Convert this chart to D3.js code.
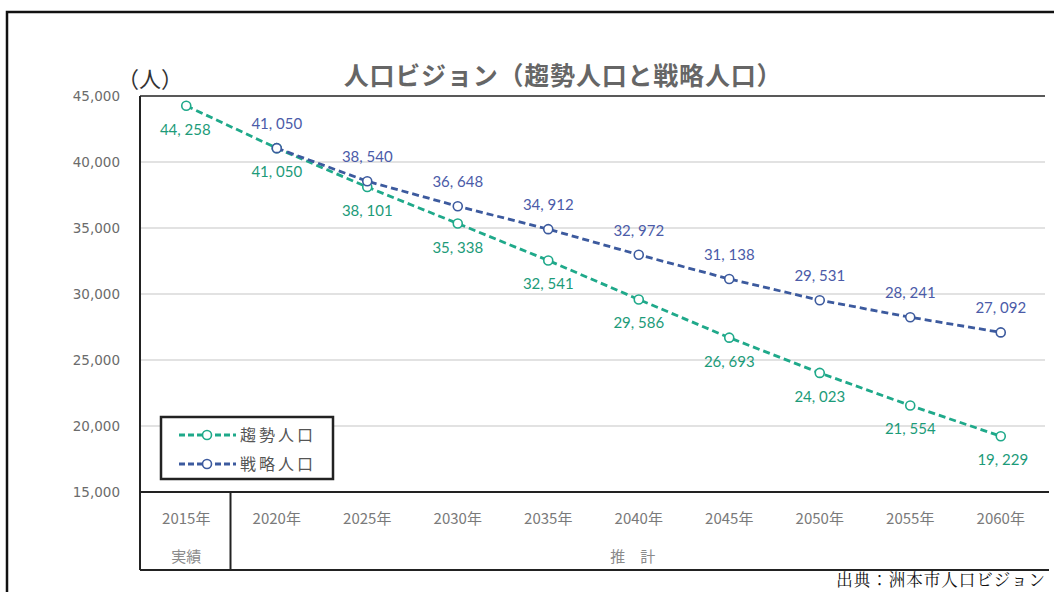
<!DOCTYPE html>
<html>
<head>
<meta charset="utf-8">
<script src="https://cdn.jsdelivr.net/npm/d3@7"></script>
<style>
  body { margin: 0; background: #fff; }
  svg { display: block; font-family: 'Noto Sans CJK JP', 'Noto Sans', sans-serif; }
</style>
</head>
<body>
<script>
const years = ['2015年', '2020年', '2025年', '2030年', '2035年', '2040年', '2045年', '2050年', '2055年', '2060年']
const trend = [44258, 41050, 38101, 35338, 32541, 29586, 26693, 24023, 21554, 19229]
const strategic = [null, 41050, 38540, 36648, 34912, 32972, 31138, 29531, 28241, 27092]
const yTicks = [15000, 20000, 25000, 30000, 35000, 40000, 45000]
const seriesNames = ['趨勢人口', '戦略人口']

const W = 1054, H = 592
const GREEN = '#1fa98a', BLUE = '#3c5a9e'
const GREEN_TXT = '#1c9b79', BLUE_TXT = '#4b5ba8'

const svg = d3.select('body').append('svg').attr('width', W).attr('height', H)

const plot = { left: 140, right: 1045, top: 96, bottom: 492, tableBottom: 570 }

const x = d3.scaleBand().domain(years).range([plot.left, plot.right])
const y = d3.scaleLinear().domain([15000, 45000]).range([plot.bottom, plot.top])
const cx = d => x(d) + x.bandwidth() / 2 + 1

// outer frame (cut at right/bottom)
svg.append('path')
  .attr('d', `M7,${H} V12 H${W}`)
  .attr('fill', 'none').attr('stroke', '#111').attr('stroke-width', 2.5)

// grid lines
svg.append('g').selectAll('line')
  .data(yTicks.filter(t => t > 15000 && t < 45000))
  .join('line')
  .attr('x1', plot.left).attr('x2', plot.right)
  .attr('y1', d => y(d)).attr('y2', d => y(d))
  .attr('stroke', '#d9d9d9').attr('stroke-width', 1.5)

// y axis labels
const yAxis = d3.axisLeft(y).tickValues(yTicks).tickSize(0).tickPadding(20)
  .tickFormat(d3.format(','))
svg.append('g').attr('transform', `translate(${plot.left},0)`).call(yAxis)
  .call(g => g.select('.domain').remove())
  .call(g => g.selectAll('text').attr('fill', '#6b6b6b')
    .style('font-family', "'DejaVu Sans', sans-serif").style('font-size', '13.5px'))

// plot borders
svg.append('line').attr('x1', plot.left).attr('x2', plot.right)
  .attr('y1', plot.top).attr('y2', plot.top).attr('stroke', '#222').attr('stroke-width', 1.5)
svg.append('line').attr('x1', plot.left).attr('x2', plot.right + 4)
  .attr('y1', plot.bottom).attr('y2', plot.bottom).attr('stroke', '#222').attr('stroke-width', 2)
svg.append('line').attr('x1', plot.left).attr('x2', plot.right + 4)
  .attr('y1', plot.tableBottom).attr('y2', plot.tableBottom).attr('stroke', '#222').attr('stroke-width', 2)
svg.append('line').attr('x1', plot.left).attr('x2', plot.left)
  .attr('y1', plot.top).attr('y2', plot.tableBottom).attr('stroke', '#222').attr('stroke-width', 2)
svg.append('line').attr('x1', x(years[1])).attr('x2', x(years[1]))
  .attr('y1', plot.bottom).attr('y2', plot.tableBottom).attr('stroke', '#222').attr('stroke-width', 2)

// category labels
svg.append('g').selectAll('text').data(years).join('text')
  .attr('x', d => cx(d)).attr('y', 524)
  .attr('text-anchor', 'middle').attr('fill', '#7a7a7a')
  .style('font-size', '15px')
  .text(d => d)
svg.append('text').attr('x', cx(years[0])).attr('y', 562)
  .attr('text-anchor', 'middle').attr('fill', '#8a8a8a').style('font-size', '15px').text('実績')
svg.append('text').attr('x', cx(years[5]) - 6).attr('y', 562)
  .attr('text-anchor', 'middle').attr('fill', '#8a8a8a').style('font-size', '15px')
  .attr('xml:space', 'preserve').text('推　計')

// title
svg.append('text').attr('x', 563).attr('y', 85).attr('text-anchor', 'middle')
  .attr('fill', '#666').style('font-size', '25px').style('font-weight', 'bold')
  .attr('letter-spacing', '0.8px')
  .text('人口ビジョン（趨勢人口と戦略人口）')
svg.append('text').attr('x', 117).attr('y', 87)
  .attr('fill', '#333').style('font-size', '22px')
  .text('（人）')

// lines
const line = d3.line()
  .defined(d => d.v != null)
  .x(d => cx(d.year)).y(d => y(d.v))

const drawSeries = (values, color, txtColor, below, labelShift) => {
  const data = years.map((year, i) => ({ year, v: values[i], i }))
  svg.append('path').datum(data)
    .attr('d', line).attr('fill', 'none')
    .attr('stroke', color).attr('stroke-width', 2.8)
    .attr('stroke-dasharray', '7,4')
  const pts = data.filter(d => d.v != null)
  svg.append('g').selectAll('circle').data(pts).join('circle')
    .attr('cx', d => cx(d.year)).attr('cy', d => y(d.v)).attr('r', 4.5)
    .attr('fill', '#fff').attr('stroke', color).attr('stroke-width', 1.6)
  svg.append('g').selectAll('text').data(pts).join('text')
    .attr('x', d => cx(d.year) + (labelShift[d.i] || 0))
    .attr('y', d => y(d.v) + (below ? 29 : -19))
    .attr('text-anchor', 'middle').attr('fill', txtColor)
    .style('font-size', '15px')
    .style('font-family', "'Lato', 'Noto Sans', sans-serif")
    .text(d => d3.format(',')(d.v).replace(',', ', '))
}

drawSeries(trend, GREEN, GREEN_TXT, true, { 0: -1, 9: 2 })
drawSeries(strategic, BLUE, BLUE_TXT, false, {})

// legend
const lg = svg.append('g').attr('transform', 'translate(161,417)')
lg.append('rect').attr('width', 172).attr('height', 62)
  .attr('fill', '#fff').attr('stroke', '#222').attr('stroke-width', 2.5)
const rows = [{ name: seriesNames[0], color: GREEN }, { name: seriesNames[1], color: BLUE }]
rows.forEach((r, i) => {
  const yy = 18 + i * 29
  lg.append('line').attr('x1', 18).attr('x2', 75).attr('y1', yy).attr('y2', yy)
    .attr('stroke', r.color).attr('stroke-width', 2.8).attr('stroke-dasharray', '6,3')
  lg.append('circle').attr('cx', 46).attr('cy', yy).attr('r', 4.5)
    .attr('fill', '#fff').attr('stroke', r.color).attr('stroke-width', 1.6)
  lg.append('text').attr('x', 79).attr('y', yy + 6).attr('fill', '#555')
    .style('font-size', '16px').attr('letter-spacing', '3px').text(r.name)
})

// source
svg.append('text').attr('x', 1046).attr('y', 586).attr('text-anchor', 'end')
  .attr('fill', '#111').style('font-size', '16.5px')
  .style('font-family', "'Noto Serif CJK JP', 'Noto Sans CJK JP', serif")
  .attr('letter-spacing', '1px')
  .text('出典：洲本市人口ビジョン')
</script>
</body>
</html>
